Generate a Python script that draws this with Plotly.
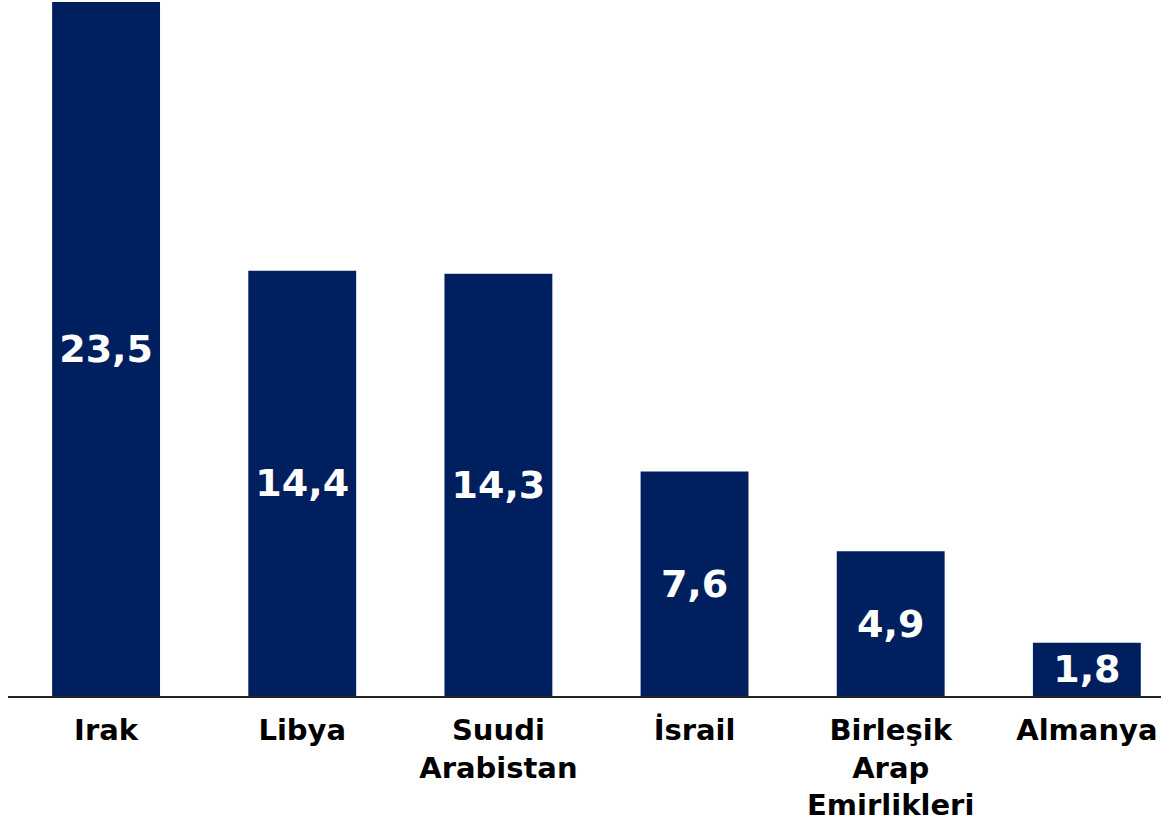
import plotly.graph_objects as go

categories = ['Irak', 'Libya', 'Suudi<br>Arabistan', 'İsrail', 'Birleşik<br>Arap<br>Emirlikleri', 'Almanya']
values = [23.5, 14.4, 14.3, 7.6, 4.9, 1.8]

navy = '#001F5F'

fig = go.Figure()

fig.add_trace(go.Bar(
    x=categories,
    y=values,
    marker=dict(color=navy, line=dict(width=0)),
    width=0.55,
    texttemplate='%{y:.1f}',
    textposition='inside',
    insidetextanchor='middle',
    textangle=0,
    textfont=dict(family='DejaVu Sans', size=38, color='white', weight='bold'),
))

fig.update_layout(
    width=1161, height=822,
    margin=dict(l=8, r=0, t=2, b=124),
    separators=',.',
    paper_bgcolor='white',
    plot_bgcolor='white',
    showlegend=False,
    xaxis=dict(
        range=[-0.5, 5.378],
        showline=True, linecolor='#222222', linewidth=2,
        ticks='', showgrid=False,
        ticklabelstandoff=7,
        tickfont=dict(family='DejaVu Sans', size=29, color='black', weight='bold'),
    ),
    yaxis=dict(
        range=[0, 23.5],
        visible=False, showgrid=False, zeroline=False,
    ),
)

# drop the browser's default page margin so the chart sits at the window edge
fig.write_html('out.html', config={'displayModeBar': False},
               post_script="document.body.style.margin='0';")
